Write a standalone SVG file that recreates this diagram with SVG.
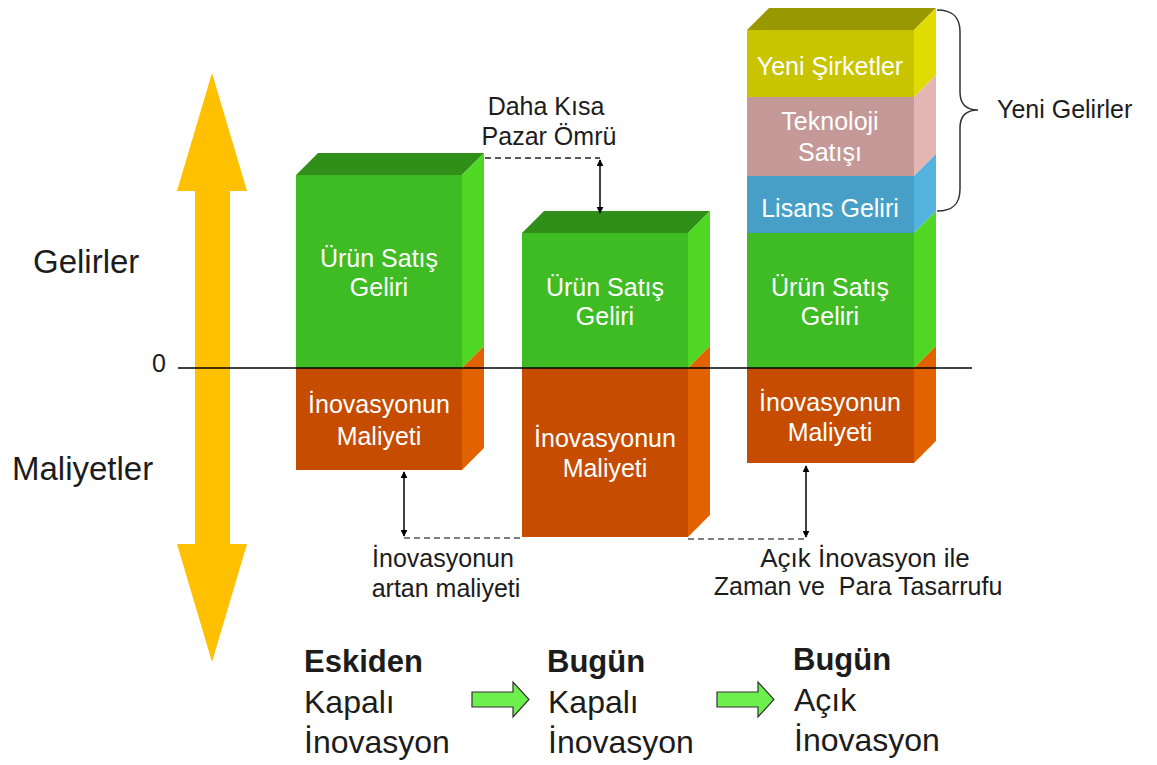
<svg xmlns="http://www.w3.org/2000/svg" width="1157" height="765" viewBox="0 0 1157 765">
  <style>
    text { font-family: "Liberation Sans", Arial, sans-serif; }
    .lbl { fill: #1c1c1c; font-size: 25px; }
    .big { fill: #1c1c1c; font-size: 33px; }
    .step { fill: #1c1c1c; font-size: 32px; }
    .stepb { fill: #1c1c1c; font-size: 31px; font-weight: bold; }
    .in { fill: #ffffff; font-size: 25px; text-anchor: middle; }
    .gF { fill: #3fbb24; } .gT { fill: #2f8f19; } .gS { fill: #4fd723; }
    .oF { fill: #c54c00; } .oS { fill: #e36200; }
    .yF { fill: #c9c400; } .yT { fill: #9a9800; } .yS { fill: #e0dc00; }
    .pF { fill: #c49998; } .pS { fill: #e3b6b4; }
    .bF { fill: #479fc7; } .bS { fill: #55b3e0; }
    .dim { stroke: #000; stroke-width: 1.5; fill: none; marker-start: url(#tip); marker-end: url(#tip); }
    .dash { stroke: #555; stroke-width: 1.5; stroke-dasharray: 6 4; fill: none; }
    .flow { fill: #6cf04e; stroke: #333; stroke-width: 1.2; }
  </style>
  <defs>
    <marker id="tip" viewBox="0 0 10 10" refX="9" refY="5" markerWidth="7" markerHeight="7" markerUnits="userSpaceOnUse" orient="auto-start-reverse">
      <path d="M0,0 L10,5 L0,10 z" fill="#000"/>
    </marker>
  </defs>

  <!-- vertical axis: revenues up, costs down -->
  <g id="axis">
    <polygon points="212,73 247,191 230,191 230,544 247,544 212,662 177,544 195,544 195,191 177,191" fill="#ffc000"/>
    <text class="big" x="33" y="273">Gelirler</text>
    <text class="big" x="12" y="480">Maliyetler</text>
    <text class="lbl" x="152" y="372">0</text>
  </g>

  <!-- column 1: closed innovation, past -->
  <g id="block-past">
    <polygon class="gT" points="296,175 318,153 484,153 462,175"/>
    <rect class="gF" x="296" y="175" width="166" height="193"/>
    <polygon class="gS" points="462,175 484,153 484,346 462,368"/>
    <rect class="oF" x="296" y="368" width="166" height="102"/>
    <polygon class="oS" points="462,368 484,346 484,448 462,470"/>
    <text class="in" x="379" y="267">Ürün Satış</text>
    <text class="in" x="379" y="296">Geliri</text>
    <text class="in" x="379" y="413">İnovasyonun</text>
    <text class="in" x="379" y="445">Maliyeti</text>
  </g>

  <!-- column 2: closed innovation, today -->
  <g id="block-today-closed">
    <polygon class="gT" points="522,233 544,211 710,211 688,233"/>
    <rect class="gF" x="522" y="233" width="166" height="135"/>
    <polygon class="gS" points="688,233 710,211 710,346 688,368"/>
    <rect class="oF" x="522" y="368" width="166" height="169"/>
    <polygon class="oS" points="688,368 710,346 710,515 688,537"/>
    <text class="in" x="605" y="296">Ürün Satış</text>
    <text class="in" x="605" y="325">Geliri</text>
    <text class="in" x="605" y="447">İnovasyonun</text>
    <text class="in" x="605" y="477">Maliyeti</text>
  </g>

  <!-- column 3: open innovation, today -->
  <g id="block-today-open">
    <polygon class="yT" points="747,30 769,8 936,8 914,30"/>
    <rect class="yF" x="747" y="30" width="167" height="67"/>
    <polygon class="yS" points="914,30 936,8 936,75 914,97"/>
    <rect class="pF" x="747" y="97" width="167" height="79"/>
    <polygon class="pS" points="914,97 936,75 936,154 914,176"/>
    <rect class="bF" x="747" y="176" width="167" height="57"/>
    <polygon class="bS" points="914,176 936,154 936,211 914,233"/>
    <rect class="gF" x="747" y="233" width="167" height="135"/>
    <polygon class="gS" points="914,233 936,211 936,346 914,368"/>
    <rect class="oF" x="747" y="368" width="167" height="95"/>
    <polygon class="oS" points="914,368 936,346 936,441 914,463"/>
    <text class="in" x="830" y="75">Yeni Şirketler</text>
    <text class="in" x="830" y="130">Teknoloji</text>
    <text class="in" x="830" y="161">Satışı</text>
    <text class="in" x="830" y="217">Lisans Geliri</text>
    <text class="in" x="830" y="296">Ürün Satış</text>
    <text class="in" x="830" y="325">Geliri</text>
    <text class="in" x="830" y="411">İnovasyonun</text>
    <text class="in" x="830" y="441">Maliyeti</text>
  </g>

  <!-- new revenue brace -->
  <g id="new-revenue">
    <path d="M937,10 C952,10 960,16 960,32 L960,92 C960,104 966,110 978,110 C966,110 960,116 960,128 L960,189 C960,205 952,211 937,211" fill="none" stroke="#333" stroke-width="1.5"/>
    <text class="lbl" x="997" y="118">Yeni Gelirler</text>
  </g>

  <!-- zero line, guide lines and dimension arrows -->
  <g id="connectors">
    <line x1="178" y1="368" x2="972" y2="368" stroke="#000" stroke-width="1.5"/>
    <line class="dash" x1="485" y1="158" x2="600" y2="158" style="stroke:#222"/>
    <line class="dim" x1="600" y1="160" x2="600" y2="213"/>
    <line class="dash" x1="404" y1="538" x2="522" y2="538"/>
    <line class="dim" x1="404" y1="472" x2="404" y2="536"/>
    <line class="dash" x1="688" y1="539" x2="806" y2="539"/>
    <line class="dim" x1="806" y1="466" x2="806" y2="537"/>
    <polygon class="flow" points="472,692 513,692 513,682 529,699.5 513,717 513,707 472,707"/>
    <polygon class="flow" points="717,692 758,692 758,682 774,699.5 758,717 758,707 717,707"/>
  </g>

  <!-- annotations -->
  <g id="notes">
    <text class="lbl" x="546" y="115" text-anchor="middle">Daha Kısa</text>
    <text class="lbl" x="549" y="145" text-anchor="middle">Pazar Ömrü</text>
    <text class="lbl" x="443" y="567" text-anchor="middle">İnovasyonun</text>
    <text class="lbl" x="446" y="597" text-anchor="middle">artan maliyeti</text>
    <text class="lbl" x="865" y="567" text-anchor="middle" style="font-size:26px">Açık İnovasyon ile</text>
    <text class="lbl" x="858" y="595" text-anchor="middle" xml:space="preserve">Zaman ve  Para Tasarrufu</text>
  </g>

  <!-- timeline captions -->
  <g id="step-past">
    <text class="stepb" x="304" y="672">Eskiden</text>
    <text class="step" x="304" y="713">Kapalı</text>
    <text class="step" x="304" y="753">İnovasyon</text>
  </g>
  <g id="step-today-closed">
    <text class="stepb" x="547" y="672">Bugün</text>
    <text class="step" x="548" y="713">Kapalı</text>
    <text class="step" x="548" y="753">İnovasyon</text>
  </g>
  <g id="step-today-open">
    <text class="stepb" x="793" y="670">Bugün</text>
    <text class="step" x="794" y="711">Açık</text>
    <text class="step" x="794" y="751">İnovasyon</text>
  </g>
</svg>
